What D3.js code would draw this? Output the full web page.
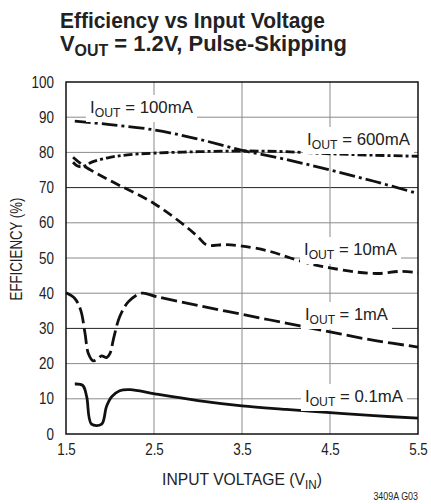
<!DOCTYPE html>
<html><head><meta charset="utf-8">
<script src="https://cdn.jsdelivr.net/npm/d3@7"></script>
<style>body{margin:0;background:#fff}svg{display:block}text{font-family:"Liberation Sans",Arial,sans-serif;fill:#222}</style>
</head><body>
<svg id="c" width="431" height="504"></svg>
<script>
const xTicks=[1.5,2.5,3.5,4.5,5.5];
const yTicks=[0,10,20,30,40,50,60,70,80,90,100];
const s100mA=[[1.6,88.9],[2.0,87.9],[2.5,86.4],[3.0,83.8],[3.5,80.6],[4.0,78],[4.5,75],[5.0,71.8],[5.5,68.3]];
const s600mA=[[1.58,77.2],[1.62,76.3],[1.68,75.9],[1.8,77.3],[2.0,78.6],[2.2,79.3],[2.5,79.8],[3.0,80.2],[3.5,80.4],[4.0,80.2],[4.5,79.6],[5.0,79.2],[5.5,78.9]];
const s10mA=[[1.58,78.6],[1.7,76.2],[2.0,72],[2.5,65.5],[2.87,58.8],[3.0,56],[3.1,53.7],[3.3,53.8],[3.5,53.4],[3.8,52],[4.05,50],[4.3,48.2],[4.5,47.2],[4.8,46],[5.05,45.6],[5.3,46.2],[5.5,45.8]];
const s1mA=[[1.5,40.1],[1.6,38.5],[1.667,35.2],[1.716,28.6],[1.754,22.9],[1.81,20.8],[1.867,21.5],[1.905,22.2],[1.962,21.7],[2.0,22.9],[2.045,27.6],[2.11,33.3],[2.21,37.6],[2.36,40],[2.53,39],[3.0,36.5],[3.5,34],[4.0,31.5],[4.5,29],[5.0,26.6],[5.5,24.7]];
const s01mA=[[1.6,14.2],[1.69,13.8],[1.735,10.6],[1.79,2.8],[1.905,2.8],[1.96,7.8],[2.02,10.6],[2.11,12.3],[2.23,12.6],[2.51,11.4],[3.0,9.5],[3.5,8],[4.0,7],[4.5,6.1],[5.0,5.2],[5.5,4.5]];
const series=[
 {name:"100mA",data:s100mA,dash:"16,4,3,4"},
 {name:"600mA",data:s600mA,dash:"9,3,3,3"},
 {name:"10mA",data:s10mA,dash:"10,5"},
 {name:"1mA",data:s1mA,dash:"16,5"},
 {name:"0.1mA",data:s01mA,dash:null}
];
const labels=[
 {text:"100mA",x:90,y:113,w:103},
 {text:"600mA",x:307,y:145,w:103},
 {text:"10mA",x:304,y:255,w:93},
 {text:"1mA",x:305,y:320,w:83},
 {text:"0.1mA",x:305,y:402,w:98}
];
const svg=d3.select("#c");
const SQ=0.84;
function squeeze(t,ax,s){t.attr("transform",`translate(${ax},0) scale(${s},1) translate(${-ax},0)`);}
function fit(t,ax,target){const w=t.node().getBBox().width;squeeze(t,ax,target/w);}
const x=d3.scaleLinear().domain([1.5,5.5]).range([66,418]);
const y=d3.scaleLinear().domain([0,100]).range([434,82]);
// grid
svg.append("g").selectAll("line").data(yTicks.slice(1,-1)).join("line")
 .attr("x1",66).attr("x2",418).attr("y1",d=>y(d)).attr("y2",d=>y(d))
 .attr("stroke",d=>(d===70||d===30)?"#222":"#8a8a8a").attr("stroke-width",1);
svg.append("g").selectAll("line").data(xTicks.slice(1,-1)).join("line")
 .attr("y1",82).attr("y2",434).attr("x1",d=>x(d)).attr("x2",d=>x(d))
 .attr("stroke","#8a8a8a").attr("stroke-width",1);
// curves
const line=d3.line().x(d=>x(d[0])).y(d=>y(d[1])).curve(d3.curveCatmullRom.alpha(0.5));
series.forEach(s=>{
 svg.append("path").attr("d",line(s.data)).attr("fill","none").attr("stroke","#111")
  .attr("stroke-width",2.8).attr("stroke-dasharray",s.dash);
});
// labels with white boxes
labels.forEach(l=>{
 const g=svg.append("g");
 const r=g.append("rect").attr("fill","#fff");
 const t=g.append("text").attr("x",l.x).attr("y",l.y).attr("font-size",16.5);
 t.append("tspan").text("I");
 t.append("tspan").attr("font-size",12).attr("dy",4).text("OUT");
 t.append("tspan").attr("dy",-4).text(" = "+l.text);
 const b=t.node().getBBox();
 fit(t,l.x,l.w);
 r.attr("x",l.x-4).attr("y",b.y-3).attr("width",l.w+8).attr("height",b.height+5);
});
// frame
svg.append("rect").attr("x",66).attr("y",82).attr("width",352).attr("height",352)
 .attr("fill","none").attr("stroke","#111").attr("stroke-width",1.5);
// axes ticks
const ya=d3.axisLeft(y).tickValues(yTicks).tickSize(0).tickPadding(12);
svg.append("g").attr("transform","translate(66,0)").call(ya).call(g=>{g.select(".domain").remove();g.selectAll("text").attr("font-size",16).attr("fill","#222").attr("font-family",null).each(function(){squeeze(d3.select(this),-12,SQ);});});
const xa=d3.axisBottom(x).tickValues(xTicks).tickFormat(d3.format(".1f")).tickSize(0).tickPadding(10);
svg.append("g").attr("transform","translate(0,434)").call(xa).call(g=>{g.select(".domain").remove();g.selectAll("text").attr("font-size",16).attr("fill","#222").attr("font-family",null).each(function(){squeeze(d3.select(this),0,SQ);});});
// axis titles
const xt=svg.append("text").attr("x",242).attr("y",485).attr("text-anchor","middle").attr("font-size",16);
xt.append("tspan").text("INPUT VOLTAGE (V");
xt.append("tspan").attr("font-size",12).attr("dy",4).text("IN");
xt.append("tspan").attr("dy",-4).text(")");
fit(xt,242,160);
const yt=svg.append("text").attr("x",0).attr("y",0).attr("text-anchor","middle").attr("font-size",16).text("EFFICIENCY (%)");
const yw=yt.node().getBBox().width;
yt.attr("transform",`translate(22,249) rotate(-90) scale(${103/yw},1)`);
const code=svg.append("text").attr("x",418).attr("y",500).attr("text-anchor","end").attr("font-size",10).text("3409A G03");
fit(code,418,45);
// title
const t1=svg.append("text").attr("x",60).attr("y",28).attr("font-size",22).attr("font-weight","bold").text("Efficiency vs Input Voltage");
fit(t1,60,265);
const t2=svg.append("text").attr("x",60).attr("y",51).attr("font-size",22).attr("font-weight","bold");
t2.append("tspan").text("V");
t2.append("tspan").attr("font-size",16).attr("dy",5).text("OUT");
t2.append("tspan").attr("dy",-5).text(" = 1.2V, Pulse-Skipping");
fit(t2,60,287);
</script>
</body></html>
